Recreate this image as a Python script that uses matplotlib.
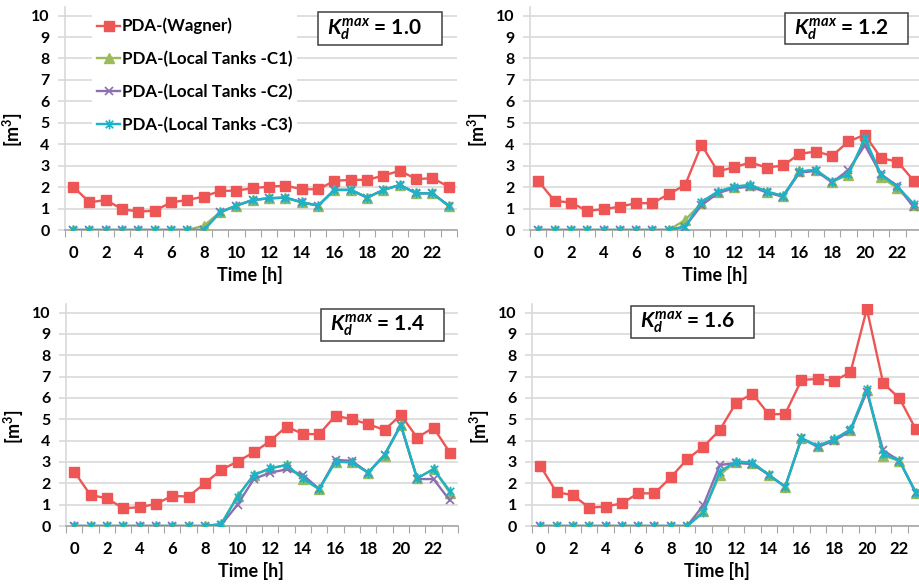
import numpy as np
import matplotlib
matplotlib.use("Agg")
import matplotlib.pyplot as plt
from matplotlib.path import Path
from matplotlib.patches import Rectangle

plt.rcParams['font.family'] = ['Lato', 'DejaVu Sans']
plt.rcParams['font.weight'] = 'bold'
plt.rcParams['mathtext.fontset'] = 'custom'
plt.rcParams['mathtext.it'] = 'Lato:italic:bold'
plt.rcParams['mathtext.rm'] = 'Lato:bold'

hours = list(range(24))
kd_labels = ["1.0", "1.2", "1.4", "1.6"]
series_names = ["PDA-(Wagner)", "PDA-(Local Tanks -C1)",
                "PDA-(Local Tanks -C2)", "PDA-(Local Tanks -C3)"]

# Kd max = 1.0
wagner_10 = [2.02, 1.29, 1.40, 0.97, 0.86, 0.90, 1.29, 1.40, 1.56, 1.82, 1.84, 1.95,
             2.02, 2.07, 1.90, 1.90, 2.29, 2.34, 2.34, 2.54, 2.76, 2.38, 2.41, 2.02]
c1_10 = [0, 0, 0, 0, 0, 0, 0, 0, 0.20, 0.83, 1.14, 1.40,
         1.48, 1.51, 1.29, 1.14, 1.87, 1.87, 1.51, 1.87, 2.10, 1.71, 1.71, 1.12]
c2_10 = [0, 0, 0, 0, 0, 0, 0, 0, 0, 0.83, 1.14, 1.40,
         1.48, 1.51, 1.29, 1.14, 1.87, 1.87, 1.51, 1.87, 2.10, 1.71, 1.71, 1.12]
c3_10 = [0, 0, 0, 0, 0, 0, 0, 0, 0, 0.83, 1.14, 1.40,
         1.48, 1.51, 1.29, 1.14, 1.87, 1.87, 1.51, 1.87, 2.10, 1.71, 1.71, 1.12]

# Kd max = 1.2
wagner_12 = [2.29, 1.36, 1.28, 0.89, 0.97, 1.09, 1.25, 1.25, 1.68, 2.10, 3.97, 2.73,
             2.93, 3.15, 2.91, 3.01, 3.55, 3.66, 3.46, 4.13, 4.44, 3.35, 3.19, 2.29]
c1_12 = [0, 0, 0, 0, 0, 0, 0, 0, 0, 0.47, 1.25, 1.79,
         2.02, 2.10, 1.79, 1.59, 2.73, 2.80, 2.26, 2.58, 4.20, 2.45, 1.95, 1.15]
c2_12 = [0, 0, 0, 0, 0, 0, 0, 0, 0, 0.16, 1.15, 1.72,
         1.95, 2.02, 1.75, 1.55, 2.68, 2.75, 2.22, 2.80, 3.95, 2.60, 2.05, 1.05]
c3_12 = [0, 0, 0, 0, 0, 0, 0, 0, 0, 0.16, 1.32, 1.79,
         2.02, 2.10, 1.79, 1.59, 2.73, 2.80, 2.26, 2.62, 4.28, 2.57, 2.02, 1.21]

# Kd max = 1.4
wagner_14 = [2.55, 1.45, 1.30, 0.83, 0.88, 1.03, 1.41, 1.38, 2.00, 2.63, 3.02, 3.45,
             3.98, 4.66, 4.31, 4.30, 5.17, 5.00, 4.77, 4.50, 5.20, 4.14, 4.61, 3.44]
c1_14 = [0, 0, 0, 0, 0, 0, 0, 0, 0, 0.10, 1.40, 2.39,
         2.70, 2.86, 2.20, 1.73, 3.02, 2.98, 2.50, 3.30, 4.73, 2.23, 2.67, 1.55]
c2_14 = [0, 0, 0, 0, 0, 0, 0, 0, 0, 0.05, 1.00, 2.20,
         2.50, 2.65, 2.40, 1.73, 3.10, 3.05, 2.50, 3.33, 4.73, 2.20, 2.20, 1.20]
c3_14 = [0, 0, 0, 0, 0, 0, 0, 0, 0, 0.08, 1.38, 2.39,
         2.70, 2.86, 2.23, 1.73, 3.02, 2.98, 2.50, 3.33, 4.73, 2.23, 2.67, 1.64]

# Kd max = 1.6
wagner_16 = [2.83, 1.58, 1.45, 0.86, 0.91, 1.06, 1.53, 1.53, 2.28, 3.13, 3.72, 4.50,
             5.78, 6.19, 5.23, 5.25, 6.84, 6.89, 6.80, 7.20, 10.17, 6.69, 5.98, 4.53]
c1_16 = [0, 0, 0, 0, 0, 0, 0, 0, 0, 0, 0.70, 2.40,
         3.02, 2.97, 2.39, 1.84, 4.11, 3.75, 4.06, 4.50, 6.35, 3.30, 3.05, 1.56]
c2_16 = [0, 0, 0, 0, 0, 0, 0, 0, 0, 0, 0.98, 2.86,
         2.95, 2.90, 2.39, 1.84, 4.11, 3.70, 4.00, 4.45, 6.30, 3.55, 3.05, 1.56]
c3_16 = [0, 0, 0, 0, 0, 0, 0, 0, 0, 0, 0.64, 2.55,
         3.02, 2.97, 2.39, 1.84, 4.11, 3.75, 4.06, 4.53, 6.41, 3.38, 3.05, 1.56]

panels = [
    (wagner_10, c1_10, c2_10, c3_10),
    (wagner_12, c1_12, c2_12, c3_12),
    (wagner_14, c1_14, c2_14, c3_14),
    (wagner_16, c1_16, c2_16, c3_16),
]

W, H = 919, 586
fig = plt.figure(figsize=(W / 100, H / 100), dpi=100)

def px(x0, y0, x1, y1):
    # figure pixel box -> add_axes rect
    return [x0 / W, 1 - y1 / H, (x1 - x0) / W, (y1 - y0) / H]

# axes boxes in pixels (left, top, right, bottom)
boxes = [(65, 7, 457, 230), (530, 7, 922, 230),
         (66, 304, 458, 526), (532, 304, 924, 526)]
# Kd label boxes in pixels
kd_boxes = [(318, 12, 442, 45), (785, 13, 908, 44),
            (321, 309, 444, 341), (631, 306, 754, 338)]

colors = ['#EE5555', '#9BBB59', '#8B6FB0', '#1BB3C8']
star = Path([(-1, -1), (1, 1), (-1, 1), (1, -1), (0, -1.3), (0, 1.3)],
            [Path.MOVETO, Path.LINETO, Path.MOVETO, Path.LINETO, Path.MOVETO, Path.LINETO])
markers = ['s', '^', 'x', star]
msizes = [6.5, 6.5, 6, 7]
gridc = '#D9D9D9'
axc = '#A6A6A6'

for i, data in enumerate(panels):
    ax = fig.add_axes(px(*boxes[i]))
    for j, vals in enumerate(data):
        kw = dict(color=colors[j], lw=1.7, marker=markers[j], ms=msizes[j],
                  label=series_names[j], zorder=3 + j)
        if j >= 2:
            kw.update(mfc='none', mew=1.2)
        ax.plot(hours, vals, **kw)
    ax.set_xlim(-0.5, 23.5)
    ax.set_ylim(0, 10.4)
    ax.set_yticks(range(0, 11))
    ax.yaxis.grid(True, color=gridc, lw=1.2)
    ax.set_axisbelow(True)
    ax.set_xticks(np.arange(-0.5, 24, 1))
    ax.set_xticklabels([])
    ax.set_xticks(range(0, 24, 2), minor=True)
    ax.set_xticklabels([str(h) for h in range(0, 24, 2)], minor=True)
    ax.tick_params(axis='x', which='major', length=5, color=axc, direction='out')
    ax.tick_params(axis='x', which='minor', length=0, pad=11, labelsize=12)
    ax.tick_params(axis='y', length=5, color=gridc, width=1.2, pad=6, labelsize=11.5)
    for s in ['top', 'right']:
        ax.spines[s].set_visible(False)
    ax.spines['left'].set_color(gridc)
    ax.spines['left'].set_linewidth(1.2)
    ax.spines['bottom'].set_color(axc)
    ax.spines['bottom'].set_linewidth(1.2)
    ax.set_xlabel('Time [h]', fontsize=13, fontweight='bold')
    ax.xaxis.set_label_coords(0.472, -0.16)
    ax.set_ylabel('[m$^\\mathregular{3}$]', fontsize=13, fontweight='bold')
    ax.yaxis.set_label_coords(-0.103, 0.45)

    # Kd max label box
    x0, y0, x1, y1 = kd_boxes[i]
    fig.add_artist(Rectangle((x0 / W, 1 - y1 / H), (x1 - x0) / W, (y1 - y0) / H,
                             transform=fig.transFigure, fc='white', ec='#404040',
                             lw=1.1, zorder=5))
    fig.text((x0 + 9) / W, 1 - ((y0 + y1) / 2 + 1) / H,
             '$K_d^{max}$ = ' + kd_labels[i], fontsize=15, fontweight='bold',
             ha='left', va='center', zorder=6)

    if i == 0:
        leg = ax.legend(loc='upper left', bbox_to_anchor=(0.07, 0.97), borderaxespad=0,
                        frameon=True, framealpha=1, facecolor='white', edgecolor='none',
                        fancybox=False, borderpad=0.25, handlelength=1.4,
                        handletextpad=0.1, labelspacing=0.98,
                        prop={'size': 12.2, 'weight': 'bold'})
        leg.set_zorder(10)

plt.savefig('out.png', dpi=100)
